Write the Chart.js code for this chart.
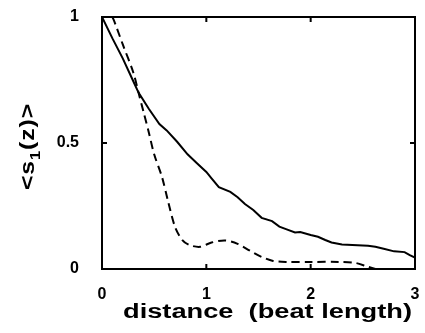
<!DOCTYPE html>
<html>
<head>
<meta charset="utf-8">
<script src="https://cdn.jsdelivr.net/npm/chart.js@4/dist/chart.umd.min.js"></script>
<style>
    html, body { margin: 0; padding: 0; background: #fff; }
    #wrap { width: 425px; height: 333px; }
</style>
</head>
<body>
<div id="wrap"><canvas id="chart"></canvas></div>
<script>
// ─── Data ──────────────────────────────────

const solidX = [0, 0.1, 0.2, 0.3, 0.35, 0.45, 0.55, 0.62, 0.72, 0.82, 0.91, 1.0, 1.05, 1.12, 1.23, 1.3,
                1.37, 1.45, 1.53, 1.63, 1.7, 1.77, 1.85, 1.9, 2.0, 2.07, 2.14, 2.2, 2.3, 2.45, 2.55,
                2.62, 2.7, 2.8, 2.9, 2.95, 3.0];
const solidY = [1.0, 0.915, 0.835, 0.745, 0.70, 0.635, 0.575, 0.55, 0.505, 0.455, 0.42, 0.385, 0.36, 0.325, 0.306, 0.285,
                0.258, 0.234, 0.203, 0.19, 0.168, 0.157, 0.145, 0.147, 0.135, 0.128, 0.115, 0.105, 0.097, 0.094, 0.092,
                0.088, 0.08, 0.07, 0.067, 0.055, 0.045];

const dashX = [0.1, 0.125, 0.2, 0.3, 0.35, 0.4, 0.45, 0.5, 0.575, 0.63, 0.7, 0.77, 0.84, 0.94, 1.05, 1.18,
               1.3, 1.42, 1.53, 1.64, 1.77, 2.0, 2.27, 2.43, 2.54, 2.62];
const dashY = [1.0, 0.975, 0.89, 0.78, 0.70, 0.62, 0.54, 0.455, 0.365, 0.274, 0.167, 0.115, 0.095, 0.088, 0.105, 0.113,
               0.100, 0.072, 0.048, 0.032, 0.028, 0.028, 0.028, 0.024, 0.010, 0.0];

const xTicks = [0, 1, 2, 3];
const yTicks = [0, 0.5, 1];

const xTitle = 'distance  (beat length)';

// ─── Helpers ───────────────────────────────

const pairs = (xs, ys) => xs.map((x, i) => ({ x, y: ys[i] }));
const FONT  = '"Liberation Sans", Arial, Helvetica, sans-serif';

// frame, inward ticks and the axis titles
const framePlugin = {
    id: 'frame',
    afterDraw(chart) {
        const { ctx, chartArea: a, scales } = chart;
        ctx.save();
        ctx.strokeStyle = '#000';
        ctx.lineWidth = 2;
        ctx.strokeRect(a.left, a.top, a.right - a.left, a.bottom - a.top);

        const tl = 5;
        ctx.beginPath();
        xTicks.slice(1, -1).forEach(v => {
            const px = scales.x.getPixelForValue(v);
            ctx.moveTo(px, a.bottom); ctx.lineTo(px, a.bottom - tl);
            ctx.moveTo(px, a.top);    ctx.lineTo(px, a.top + tl);
        });
        yTicks.slice(1, -1).forEach(v => {
            const py = scales.y.getPixelForValue(v);
            ctx.moveTo(a.left, py);  ctx.lineTo(a.left + tl, py);
            ctx.moveTo(a.right, py); ctx.lineTo(a.right - tl, py);
        });
        ctx.stroke();
        ctx.restore();

        // x title, stretched sideways like the original lettering
        ctx.save();
        ctx.fillStyle = '#000';
        ctx.font = `bold 20px ${FONT}`;
        ctx.textAlign = 'center';
        ctx.textBaseline = 'alphabetic';
        const w = ctx.measureText(xTitle).width;
        ctx.translate(267.5, 318);
        ctx.scale(289 / w, 1);
        ctx.fillText(xTitle, 0, 0);
        ctx.restore();

        // y title: <s1(z)> with subscript, rotated
        ctx.save();
        ctx.fillStyle = '#000';
        ctx.textAlign = 'left';
        ctx.textBaseline = 'alphabetic';
        const parts = [
            { t: '<', size: 21, dy: 0 },
            { t: 's', size: 21, dy: 0 },
            { t: '1', size: 14, dy: 6 },
            { t: '(', size: 21, dy: 0 },
            { t: 'z', size: 21, dy: 0 },
            { t: ')', size: 21, dy: 0 },
            { t: '>', size: 21, dy: 0 }
        ];
        let len = 0;
        parts.forEach(p => {
            ctx.font = `bold ${p.size}px ${FONT}`;
            p.w = ctx.measureText(p.t).width + 0.8;
            len += p.w;
        });
        ctx.translate(34, 190);
        ctx.rotate(-Math.PI / 2);
        ctx.scale(87 / len, 1);
        let cx = 0;
        parts.forEach(p => {
            ctx.font = `bold ${p.size}px ${FONT}`;
            ctx.fillText(p.t, cx, p.dy);
            cx += p.w;
        });
        ctx.restore();
    }
};

// ─── Chart ─────────────────────────────────

new Chart(document.getElementById('chart').getContext('2d'), {
    type: 'line',
    data: {
        datasets: [
            {
                label: 'solid',
                data: pairs(solidX, solidY),
                borderColor: '#000',
                borderWidth: 2,
                pointRadius: 0,
                tension: 0,
                fill: false
            },
            {
                label: 'dashed',
                data: pairs(dashX, dashY),
                borderColor: '#000',
                borderWidth: 2,
                borderDash: [8, 5],
                pointRadius: 0,
                tension: 0.3,
                fill: false
            }
        ]
    },
    options: {
        responsive: true,
        maintainAspectRatio: false,
        animation: false,
        layout: { padding: { top: 17, right: 10, left: 0, bottom: 0 } },
        plugins: { legend: { display: false }, tooltip: { enabled: false } },
        scales: {
            x: {
                type: 'linear',
                min: 0, max: 3,
                grid: { display: false },
                border: { display: false },
                afterBuildTicks: s => { s.ticks = xTicks.map(v => ({ value: v })); },
                afterFit: s => { s.height = 64; s.paddingLeft = 0; s.paddingRight = 0; },
                ticks: { color: '#000', padding: 8, font: { family: FONT, size: 16, weight: 'bold' },
                         callback: v => String(v) }
            },
            y: {
                min: 0, max: 1,
                grid: { display: false },
                border: { display: false },
                afterBuildTicks: s => { s.ticks = yTicks.map(v => ({ value: v })); },
                afterFit: s => { s.width = 102; s.paddingTop = 0; s.paddingBottom = 0; },
                ticks: { color: '#000', padding: 15, font: { family: FONT, size: 16, weight: 'bold' },
                         callback: v => String(v) }
            }
        }
    },
    plugins: [framePlugin]
});
</script>
</body>
</html>
